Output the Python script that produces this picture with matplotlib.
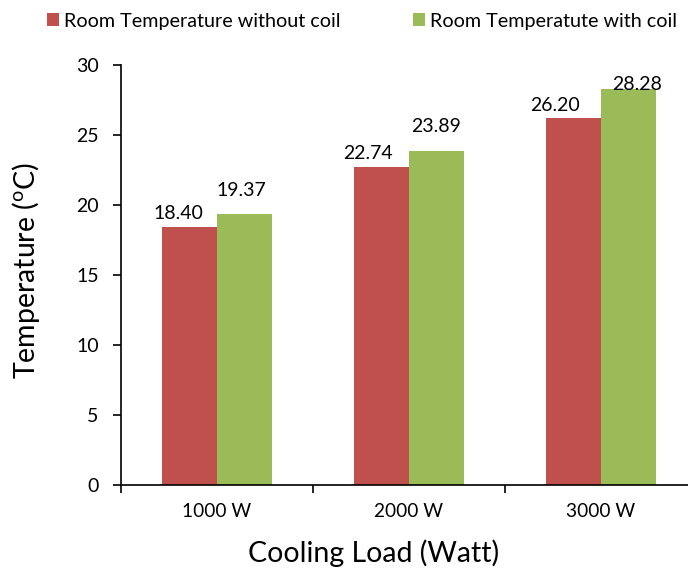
import matplotlib
matplotlib.use("Agg")
import matplotlib.pyplot as plt
import numpy as np
from matplotlib.patches import Patch

plt.rcParams['font.family'] = ['Lato', 'DejaVu Sans']
plt.rcParams['mathtext.fontset'] = 'custom'
plt.rcParams['mathtext.rm'] = 'Lato'

categories = ['1000 W', '2000 W', '3000 W']
without_coil = [18.40, 22.74, 26.20]
with_coil = [19.37, 23.89, 28.28]
series_names = ['Room Temperature without coil', 'Room Temperatute with coil']
yticks = [0, 5, 10, 15, 20, 25, 30]

red = '#C0504D'
green = '#9BBB59'

# label offsets in points (dx, dy above bar top to label centre)
off_red = [(-8, 10), (-10, 9.5), (-13, 9.5)]
off_green = [(-2, 16.5), (0, 17), (6, 3)]

fig = plt.figure(figsize=(6.88, 5.74), dpi=100)
ax = fig.add_axes([121/688, 89/574, 576/688, 420/574])

x = np.arange(len(categories))
w = 0.2865
b1 = ax.bar(x - w/2, without_coil, w, color=red, linewidth=0)
b2 = ax.bar(x + w/2, with_coil, w, color=green, linewidth=0)

for rect, v, (dx, dy) in zip(b1, without_coil, off_red):
    ax.annotate(f'{v:.2f}', (rect.get_x() + rect.get_width()/2, v),
                xytext=(dx, dy), textcoords='offset points',
                ha='center', va='center', fontsize=14, color='black')
for rect, v, (dx, dy) in zip(b2, with_coil, off_green):
    ax.annotate(f'{v:.2f}', (rect.get_x() + rect.get_width()/2, v),
                xytext=(dx, dy), textcoords='offset points',
                ha='center', va='center', fontsize=14, color='black')

ax.set_xlim(-0.5, len(categories) - 0.5)
ax.set_ylim(0, 30)
ax.set_yticks(yticks)
ax.set_yticklabels([str(t) for t in yticks], fontsize=14)
ax.set_xticks(x)
ax.set_xticklabels(categories, fontsize=13.8)
ax.tick_params(axis='x', length=0, pad=13)
ax.set_xticks(np.arange(len(categories) + 1) - 0.5, minor=True)
ax.tick_params(axis='x', which='minor', length=6, width=1.2, direction='out')
ax.tick_params(axis='y', length=6, width=1.2, direction='out', pad=10)

for s in ['top', 'right']:
    ax.spines[s].set_visible(False)
ax.spines['left'].set_linewidth(1.2)
ax.spines['bottom'].set_linewidth(1.2)

fig.text(26/688, 1 - 270/574, r'Temperature ($\mathregular{^o}$C)', rotation=90,
         ha='center', va='center', fontsize=20.5)
fig.text(374/688, 1 - 553/574, 'Cooling Load (Watt)', ha='center', va='center', fontsize=20.5)

handles = [Patch(facecolor=red, edgecolor='none'), Patch(facecolor=green, edgecolor='none')]
fig.legend(handles, series_names, loc='center left', bbox_to_anchor=(47/688, 1 - 21/574),
           ncol=2, frameon=False, fontsize=14.2, handlelength=0.62, handleheight=0.62,
           handletextpad=0.26, columnspacing=3.65, borderaxespad=0, borderpad=0)

fig.savefig('out.png', dpi=100)
